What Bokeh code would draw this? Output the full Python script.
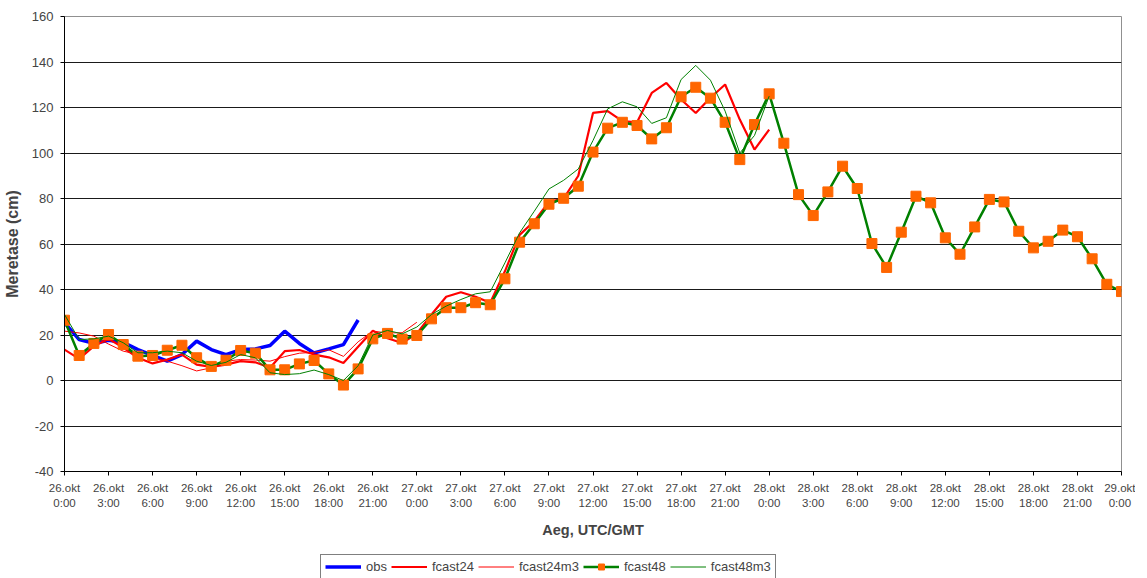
from bokeh.plotting import figure
from bokeh.models import Range1d, FixedTicker, Legend, LegendItem
from bokeh.layouts import column
from bokeh.embed import file_html
from bokeh.resources import INLINE

# hours since 26.okt 0:00 (UTC/GMT)
hours_obs = list(range(0, 21))
obs = [25.4, 18.0, 16.3, 17.7, 16.8, 13.6, 11.0, 8.5, 11.4, 17.3, 13.6, 11.4, 13.6, 13.9,
       15.4, 21.7, 16.3, 12.1, 13.9, 15.8, 26.6]

hours_f24 = list(range(0, 49))
fcast24 = [13.6, 9.5, 15.1, 18.3, 14.5, 10.0, 7.5, 9.2, 11.4, 7.0, 6.0, 7.0, 8.5, 8.0, 5.6,
           12.9, 13.4, 11.4, 10.2, 7.7, 14.8, 21.9, 18.6, 16.5, 20.6, 29.0, 36.8, 38.8, 36.8,
           34.2, 48.0, 64.0, 70.0, 78.5, 80.0, 90.0, 117.6, 118.4, 114.0, 113.5, 126.4, 130.8,
           123.5, 117.6, 124.3, 130.1, 114.7, 101.5, 110.3]

hours_f24m3 = list(range(0, 25))
fcast24m3 = [21.7, 20.9, 19.5, 16.0, 12.9, 11.5, 10.0, 8.5, 6.5, 4.2, 5.6, 8.5, 9.2, 9.0, 8.5,
             10.5, 12.0, 12.4, 13.5, 10.6, 17.0, 21.7, 20.9, 21.0, 25.6]

hours_f48 = list(range(0, 73))
fcast48 = [26.5, 11.0, 16.3, 20.2, 15.8, 10.7, 11.0, 13.3, 15.5, 10.0,
           6.2, 8.9, 13.2, 12.0, 4.7, 4.7, 7.3, 8.8, 2.9, -2.0,
           5.1, 18.3, 20.7, 18.2, 19.8, 27.1, 32.0, 32.0, 34.2, 33.3,
           44.7, 60.8, 68.9, 77.5, 80.1, 85.4, 100.4, 110.9, 113.5, 112.1,
           106.2, 111.1, 124.7, 128.9, 124.1, 113.5, 97.1, 112.5, 126.0, 104.3,
           81.7, 72.5, 82.9, 94.2, 84.4, 60.2, 49.7, 65.2, 81.0, 78.1,
           62.7, 55.5, 67.5, 79.6, 78.5, 65.6, 58.3, 61.2, 66.1, 63.2,
           53.5, 42.3, 39.1]

hours_f48m3 = list(range(0, 49))
fcast48m3 = [29.0, 18.0, 18.3, 19.5, 16.6, 12.2, 12.2, 12.9, 12.2, 8.5,
             6.6, 8.0, 11.4, 10.0, 3.4, 2.6, 3.0, 4.6, 2.6, 0.0,
             6.5, 20.0, 22.0, 20.5, 23.5, 29.0, 32.7, 35.6, 38.1, 39.0,
             51.7, 64.9, 74.4, 84.2, 88.0, 93.0, 105.5, 119.4, 122.5, 120.3,
             113.0, 115.5, 132.3, 138.5, 132.0, 118.4, 100.0, 107.7, 125.0]

tick_hours = [0, 3, 6, 9, 12, 15, 18, 21, 24, 27, 30, 33, 36, 39, 42, 45, 48,
              51, 54, 57, 60, 63, 66, 69, 72]
tick_labels = ["26.okt\n0:00", "26.okt\n3:00", "26.okt\n6:00", "26.okt\n9:00",
               "26.okt\n12:00", "26.okt\n15:00", "26.okt\n18:00", "26.okt\n21:00",
               "27.okt\n0:00", "27.okt\n3:00", "27.okt\n6:00", "27.okt\n9:00",
               "27.okt\n12:00", "27.okt\n15:00", "27.okt\n18:00", "27.okt\n21:00",
               "28.okt\n0:00", "28.okt\n3:00", "28.okt\n6:00", "28.okt\n9:00",
               "28.okt\n12:00", "28.okt\n15:00", "28.okt\n18:00", "28.okt\n21:00",
               "29.okt\n0:00"]
y_ticks = [-40, -20, 0, 20, 40, 60, 80, 100, 120, 140, 160]
y_tick_labels = ["-40", "-20", "0", "20", "40", "60", "80", "100", "120", "140", "160"]

series_names = ["obs", "fcast24", "fcast24m3", "fcast48", "fcast48m3"]

FONT = "Liberation Sans"
C_OBS, C_F24, C_F48, C_MARK = "#0000FF", "#FF0000", "#008000", "#FF6600"

p = figure(width=1135, height=554, output_backend="svg", toolbar_location=None,
           x_range=Range1d(0, 72), y_range=Range1d(-40, 160),
           min_border_left=56, min_border_right=14, min_border_top=16,
           min_border_bottom=83)
p.background_fill_color = "white"
p.border_fill_color = "white"
p.outline_line_color = "#909090"

# axes
p.xaxis.ticker = FixedTicker(ticks=tick_hours)
p.xaxis.major_label_overrides = {h: l for h, l in zip(tick_hours, tick_labels)}
p.xaxis.major_label_text_font = FONT
p.xaxis.major_label_text_font_size = "11.5px"
p.xaxis.major_label_text_line_height = 1.3
p.xaxis.major_label_standoff = 6
p.xaxis.major_tick_out = 4
p.xaxis.major_tick_in = 0
p.xaxis.minor_tick_out = 0
p.xaxis.minor_tick_in = 0
p.xaxis.axis_line_color = "black"
p.xaxis.major_tick_line_color = "black"
p.xaxis.axis_label = "Aeg, UTC/GMT"
p.xaxis.axis_label_text_font = FONT
p.xaxis.axis_label_text_font_style = "bold"
p.xaxis.axis_label_text_font_size = "14.5px"
p.xaxis.axis_label_standoff = 10

p.yaxis.ticker = FixedTicker(ticks=y_ticks)
p.yaxis.major_label_overrides = {v: l for v, l in zip(y_ticks, y_tick_labels)}
p.yaxis.major_label_text_font = FONT
p.yaxis.major_label_text_font_size = "13px"
p.yaxis.major_label_standoff = 7
p.yaxis.major_tick_out = 4
p.yaxis.major_tick_in = 0
p.yaxis.minor_tick_out = 0
p.yaxis.minor_tick_in = 0
p.yaxis.axis_line_color = "black"
p.yaxis.major_tick_line_color = "black"
p.yaxis.axis_label = "Meretase (cm)"
p.yaxis.axis_label_text_font = FONT
p.yaxis.axis_label_text_font_style = "bold"
p.yaxis.axis_label_text_font_size = "16px"
p.yaxis.axis_label_standoff = 8

p.xgrid.grid_line_color = None
p.ygrid.grid_line_color = "#1a1a1a"
p.ygrid.grid_line_width = 1

# series
p.line(hours_obs, obs, line_color=C_OBS, line_width=3.5)
p.line(hours_f24, fcast24, line_color=C_F24, line_width=2.2)
p.line(hours_f24m3, fcast24m3, line_color=C_F24, line_width=1)
p.line(hours_f48, fcast48, line_color=C_F48, line_width=2.5)
p.scatter(hours_f48, fcast48, marker="square", size=10,
          fill_color=C_MARK, line_color=C_MARK)
p.line(hours_f48m3, fcast48m3, line_color=C_F48, line_width=1)

# legend strip below the chart (same styling as the series; its own glyphs lie off-range)
lg = figure(width=1135, height=25, output_backend="svg", toolbar_location=None,
            x_range=Range1d(0, 1), y_range=Range1d(0, 1),
            x_axis_location=None, y_axis_location=None, min_border=0)
lg.outline_line_color = None
lg.grid.grid_line_color = None
lg.background_fill_color = "white"
lg.border_fill_color = "white"
ox = [-5, -4]
oy = [-5, -4]
k_obs = lg.line(ox, oy, line_color=C_OBS, line_width=3.5)
k_f24 = lg.line(ox, oy, line_color=C_F24, line_width=2.2)
k_f24m3 = lg.line(ox, oy, line_color=C_F24, line_width=1)
k_f48 = lg.line(ox, oy, line_color=C_F48, line_width=2.5)
k_f48m = lg.scatter(ox, oy, marker="square", size=10, fill_color=C_MARK, line_color=C_MARK)
k_f48m3 = lg.line(ox, oy, line_color=C_F48, line_width=1)

legend = Legend(items=[
    LegendItem(label=series_names[0], renderers=[k_obs]),
    LegendItem(label=series_names[1], renderers=[k_f24]),
    LegendItem(label=series_names[2], renderers=[k_f24m3]),
    LegendItem(label=series_names[3], renderers=[k_f48, k_f48m]),
    LegendItem(label=series_names[4], renderers=[k_f48m3]),
], orientation="horizontal", location=(256, 0))
legend.label_text_font = FONT
legend.label_text_font_size = "13px"
legend.glyph_width = 36
legend.glyph_height = 15
legend.label_height = 15
legend.label_standoff = 5
legend.spacing = 4
legend.padding = 4
legend.margin = 0
legend.border_line_color = "black"
legend.border_line_width = 1
legend.background_fill_color = "white"
legend.background_fill_alpha = 1
lg.add_layout(legend)

layout = column(p, lg, spacing=0)
open("out.html", "w").write(file_html(layout, INLINE))
